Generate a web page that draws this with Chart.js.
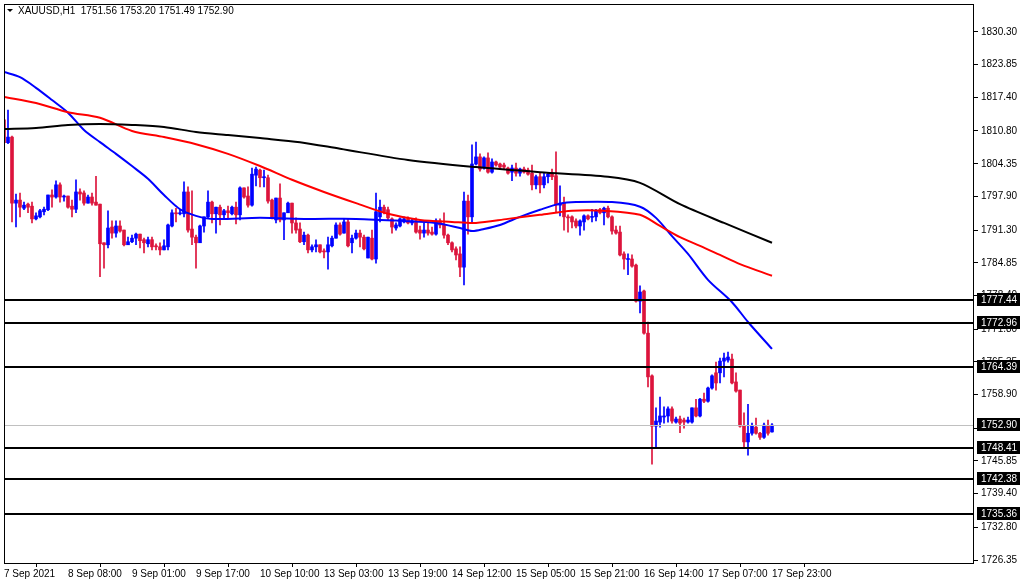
<!DOCTYPE html>
<html><head><meta charset="utf-8">
<script src="https://cdn.jsdelivr.net/npm/chart.js@4/dist/chart.umd.min.js"></script>
<style>html,body{margin:0;padding:0;background:#fff}canvas{display:block}</style>
</head><body>
<canvas id="c" width="1020" height="584"></canvas>
<script>
// OHLC candles, H1 bars, index 0..192
const opens = [1813.0,1808.5,1809.6,1796.6,1797.2,1795.6,1796.4,1796.0,1793.5,1793.9,1794.9,1795.3,1798.2,1797.8,1800.2,1797.8,1798.0,1796.0,1795.4,1798.8,1798.6,1796.6,1797.8,1796.8,1796.4,1788.8,1788.4,1791.9,1790.7,1792.1,1791.3,1788.4,1789.0,1789.7,1790.5,1789.4,1788.6,1789.4,1788.2,1788.0,1787.4,1788.0,1792.1,1794.7,1794.5,1794.5,1798.8,1791.5,1789.9,1788.8,1792.1,1793.9,1796.8,1794.5,1795.8,1794.3,1795.1,1794.5,1795.8,1794.3,1799.6,1798.0,1796.2,1802.1,1803.1,1801.6,1801.6,1797.2,1793.3,1797.6,1793.3,1794.7,1796.6,1792.7,1791.5,1789.0,1790.3,1787.4,1788.0,1788.4,1787.2,1787.0,1788.2,1789.7,1792.3,1790.7,1792.9,1788.8,1789.7,1790.7,1789.9,1785.8,1789.7,1785.6,1793.9,1795.8,1795.3,1793.5,1791.7,1792.1,1792.9,1793.5,1792.7,1793.1,1791.3,1790.7,1791.3,1790.9,1790.5,1793.1,1792.3,1790.3,1788.8,1787.6,1786.6,1784.0,1797.0,1793.9,1804.3,1805.7,1803.5,1805.5,1802.7,1804.7,1804.3,1804.1,1803.5,1802.7,1803.5,1802.5,1803.3,1803.1,1802.5,1800.2,1801.8,1800.2,1801.8,1802.5,1802.0,1796.2,1796.6,1793.9,1793.9,1793.1,1792.1,1792.9,1794.1,1793.8,1793.9,1795.3,1794.7,1795.6,1793.9,1791.3,1790.9,1786.6,1785.5,1785.6,1784.4,1777.3,1779.3,1771.0,1762.6,1752.7,1753.5,1754.5,1754.7,1756.1,1753.5,1754.1,1753.9,1753.5,1753.5,1756.3,1754.7,1758.0,1757.6,1760.2,1763.2,1763.2,1765.5,1765.7,1765.9,1761.4,1759.8,1752.7,1749.6,1751.3,1752.5,1751.3,1750.5,1752.7,1751.56];
const highs = [1813.4,1814.9,1809.8,1798.4,1798.6,1796.8,1796.6,1796.8,1794.7,1795.4,1795.8,1798.2,1799.2,1801.0,1800.6,1798.2,1798.0,1797.2,1801.2,1799.4,1799.0,1798.2,1798.6,1801.9,1796.4,1788.8,1795.1,1793.1,1793.1,1793.1,1791.3,1789.9,1790.3,1790.7,1790.5,1789.7,1789.9,1789.9,1788.6,1788.8,1789.4,1792.5,1795.3,1795.6,1795.4,1800.8,1799.8,1799.0,1790.3,1792.3,1793.9,1799.0,1797.0,1795.8,1796.2,1795.4,1796.0,1796.0,1796.8,1799.8,1799.6,1799.8,1803.5,1803.7,1803.3,1803.1,1802.1,1797.4,1797.6,1800.4,1794.7,1796.8,1796.6,1793.7,1792.7,1790.9,1790.5,1788.4,1789.4,1788.4,1787.6,1789.9,1790.1,1792.7,1792.7,1793.5,1793.5,1790.3,1791.3,1791.3,1790.3,1789.9,1791.3,1798.6,1797.2,1796.2,1795.8,1793.7,1792.7,1793.7,1793.9,1793.9,1793.5,1793.7,1792.1,1792.7,1792.7,1791.9,1793.5,1793.5,1794.7,1790.5,1789.0,1788.0,1788.0,1798.8,1798.2,1808.1,1808.6,1806.3,1805.7,1806.5,1805.3,1804.9,1804.5,1804.5,1803.7,1804.1,1804.5,1803.5,1803.7,1803.5,1804.1,1802.1,1802.5,1802.5,1802.5,1803.3,1806.7,1800.0,1797.8,1794.3,1794.1,1793.5,1793.3,1794.3,1794.3,1795.4,1795.4,1795.6,1795.8,1796.0,1794.1,1792.1,1792.1,1787.0,1786.6,1786.4,1784.6,1780.3,1779.5,1773.2,1762.8,1756.3,1758.4,1756.5,1756.5,1756.5,1754.5,1754.7,1754.3,1754.5,1756.3,1758.0,1758.2,1759.2,1760.4,1762.8,1765.3,1766.1,1767.1,1767.3,1766.9,1763.2,1759.8,1755.3,1757.0,1753.3,1754.3,1751.5,1753.3,1753.9,1753.20];
const lows = [1808.1,1808.3,1792.9,1791.9,1793.9,1795.3,1794.7,1792.7,1793.3,1793.7,1794.3,1795.1,1795.8,1797.6,1796.8,1797.0,1795.6,1793.9,1794.7,1797.2,1796.2,1796.6,1796.2,1796.2,1782.1,1783.8,1787.8,1789.7,1789.9,1790.9,1788.2,1788.4,1788.8,1788.4,1787.8,1786.8,1788.0,1787.4,1787.4,1786.4,1787.4,1787.4,1791.9,1792.9,1794.3,1793.9,1790.9,1788.4,1783.8,1788.8,1790.9,1793.7,1792.7,1790.7,1792.3,1793.7,1793.7,1794.3,1792.5,1793.3,1797.6,1795.8,1796.0,1800.0,1799.8,1799.8,1796.6,1793.5,1792.7,1792.9,1789.4,1794.7,1790.7,1790.7,1788.8,1788.4,1786.8,1787.0,1787.0,1786.8,1785.8,1783.6,1788.0,1789.7,1790.3,1790.7,1788.0,1786.8,1789.5,1788.0,1787.4,1785.8,1785.4,1784.8,1792.9,1794.5,1793.3,1790.7,1791.3,1791.9,1792.7,1792.5,1792.3,1790.7,1789.5,1789.9,1790.3,1790.3,1790.3,1791.7,1789.7,1788.4,1787.0,1785.4,1782.1,1780.5,1790.5,1792.7,1804.1,1802.9,1803.3,1802.5,1802.5,1803.9,1803.5,1803.3,1802.3,1801.0,1801.9,1801.9,1802.5,1802.1,1799.2,1799.4,1798.6,1799.6,1800.6,1801.2,1794.9,1794.1,1791.3,1790.9,1791.7,1791.7,1790.3,1791.3,1793.3,1792.9,1793.1,1794.5,1792.3,1793.7,1790.5,1790.5,1786.2,1783.6,1782.5,1784.0,1777.1,1775.0,1770.8,1760.4,1745.2,1748.6,1752.5,1753.3,1753.5,1753.3,1753.3,1751.4,1752.3,1753.3,1753.3,1754.5,1754.5,1757.3,1757.4,1760.0,1759.8,1761.2,1762.4,1765.3,1761.0,1759.4,1752.5,1748.4,1747.0,1750.9,1751.1,1750.1,1750.3,1750.9,1751.49];
const closes = [1808.5,1809.6,1796.6,1797.2,1795.8,1796.2,1795.8,1793.5,1794.1,1795.1,1795.4,1798.2,1797.8,1800.2,1797.8,1798.0,1795.8,1795.4,1798.8,1798.4,1796.6,1797.8,1796.6,1796.2,1788.6,1788.4,1791.7,1790.7,1792.1,1791.1,1788.4,1789.0,1789.7,1790.5,1789.2,1788.8,1789.4,1788.0,1788.0,1787.4,1788.2,1792.3,1794.7,1794.5,1794.7,1798.8,1791.3,1789.9,1788.8,1792.1,1793.9,1796.8,1794.5,1795.8,1794.3,1795.1,1794.7,1795.8,1794.3,1799.6,1797.8,1796.2,1802.3,1803.3,1801.6,1801.8,1797.0,1793.7,1797.6,1793.3,1794.7,1796.6,1792.7,1791.3,1789.0,1790.3,1787.4,1788.0,1788.4,1787.0,1787.0,1788.4,1789.7,1792.3,1790.5,1792.9,1788.2,1789.7,1790.7,1789.9,1787.6,1789.9,1785.6,1794.9,1795.8,1794.9,1793.7,1791.9,1792.3,1793.5,1793.5,1792.7,1793.1,1790.9,1790.7,1791.3,1790.7,1790.5,1793.1,1792.3,1790.3,1788.8,1787.4,1786.4,1784.0,1797.0,1793.9,1804.3,1805.7,1803.3,1805.5,1802.7,1804.7,1804.1,1803.7,1803.7,1802.5,1803.5,1802.5,1803.3,1802.7,1802.3,1800.2,1801.8,1800.2,1801.8,1802.3,1801.8,1796.2,1796.6,1793.9,1793.7,1792.9,1792.1,1793.1,1794.1,1793.5,1793.9,1795.1,1794.7,1795.6,1793.9,1791.1,1790.7,1786.4,1785.6,1785.7,1784.2,1777.3,1779.1,1771.0,1762.4,1752.7,1753.7,1754.7,1754.7,1756.1,1753.7,1754.1,1753.3,1753.5,1753.9,1756.3,1754.7,1758.0,1757.6,1760.2,1762.6,1761.2,1765.5,1766.1,1766.3,1761.2,1759.6,1752.7,1749.6,1751.3,1752.7,1751.3,1750.5,1752.9,1751.3,1752.90];

const maFastIdx = [0,4,8,12,16,20,24,28,32,36,40,44,48,52,64,76,88,100,108,114,117,120,124,129,134,139,143,152,159,163,167,171,176,182,186,192];
const maFastVal = [1822.4,1821.4,1819.3,1816.9,1814.4,1811.0,1808.6,1806.3,1803.9,1801.4,1798.2,1795.4,1794.1,1793.5,1793.7,1793.5,1793.5,1793.1,1792.7,1791.7,1791.1,1791.5,1792.3,1793.9,1795.3,1796.5,1796.8,1796.8,1795.9,1793.7,1790.1,1786.6,1781.5,1777.1,1773.2,1767.9];
const maMidIdx = [0,8,16,24,32,40,48,56,64,72,80,88,96,104,112,118,126,134,142,150,159,164,169,174,179,184,192];
const maMidVal = [1817.5,1816.3,1814.5,1813.4,1810.8,1809.6,1808.2,1806.3,1803.9,1801.2,1798.8,1796.6,1794.5,1793.3,1792.9,1792.7,1793.5,1794.3,1795.1,1795.1,1794.3,1792.1,1789.9,1788.2,1786.4,1784.6,1782.3];
const maSlowIdx = [0,8,16,24,32,40,48,56,64,74,84,101,118,134,151,159,169,180,192];
const maSlowVal = [1811.2,1811.4,1812.0,1812.2,1812.0,1811.6,1810.6,1810.0,1809.4,1808.6,1807.3,1805.1,1803.7,1802.7,1801.8,1800.6,1796.4,1792.7,1788.8];

const levels = [1777.44,1772.96,1764.39,1748.41,1742.38,1735.36];
const lastPrice = 1752.90;
const yTicks = [1830.30,1823.85,1817.40,1810.80,1804.35,1797.90,1791.30,1784.85,1778.40,1771.80,1765.35,1758.90,1752.30,1745.85,1739.40,1732.80,1726.35];
const xTickIdx = [0,16,32,48,64,80,96,112,128,144,160,176,192];
const xTickLabels = ['7 Sep 2021','8 Sep 08:00','9 Sep 01:00','9 Sep 17:00','10 Sep 10:00','13 Sep 03:00','13 Sep 19:00','14 Sep 12:00','15 Sep 05:00','15 Sep 21:00','16 Sep 14:00','17 Sep 07:00','17 Sep 23:00'];
const title = 'XAUUSD,H1  1751.56 1753.20 1751.49 1752.90';

const RED='#DC143C', BLUE='#0000FF';
const cols = opens.map((o,i)=> closes[i]>=o ? BLUE : RED);
const wick = opens.map((o,i)=>({x:i, y:[lows[i],highs[i]]}));
const body = opens.map((o,i)=>({x:i, y:[Math.min(o,closes[i]),Math.max(o,closes[i])]}));
const pts = (ix,v)=>ix.map((x,k)=>({x:x,y:v[k]}));
const FONT = {family:'Liberation Sans', size:10};

const overlay = {
  id:'overlay',
  afterDraw(ch){
    const c=ch.ctx, a=ch.chartArea, y=ch.scales.y;
    c.save();
    c.strokeStyle='#c0c0c0'; c.lineWidth=1;
    let py=Math.round(y.getPixelForValue(lastPrice))+0.5;
    c.beginPath(); c.moveTo(a.left,py); c.lineTo(a.right,py); c.stroke();
    c.strokeStyle='#000'; c.lineWidth=2;
    levels.forEach(v=>{const p=Math.round(y.getPixelForValue(v));c.beginPath();c.moveTo(a.left,p);c.lineTo(a.right,p);c.stroke();});
    c.font='10px "Liberation Sans"'; c.textBaseline='middle'; c.textAlign='left';
    [...levels,lastPrice].forEach(v=>{const p=Math.round(y.getPixelForValue(v));c.fillStyle='#000';c.fillRect(a.right+3,p-7,43,13);c.fillStyle='#fff';c.fillText(v.toFixed(2),a.right+7,p);});
    c.strokeStyle='#000'; c.lineWidth=1;
    c.strokeRect(a.left+0.5,a.top+0.5,a.right-a.left-1,a.bottom-a.top);
    c.fillStyle='#000';
    c.beginPath(); c.moveTo(7,9); c.lineTo(13,9); c.lineTo(10,12); c.closePath(); c.fill();
    c.font='10px "Liberation Sans"'; c.fillText(title,18,11);
    c.restore();
  }
};

new Chart(document.getElementById('c'),{
  type:'bar',
  data:{datasets:[
    {type:'line',data:pts(maSlowIdx,maSlowVal),borderColor:'#000',borderWidth:2,pointRadius:0,tension:0.3,order:1},
    {type:'line',data:pts(maMidIdx,maMidVal),borderColor:'#FF0000',borderWidth:2,pointRadius:0,tension:0.3,order:1},
    {type:'line',data:pts(maFastIdx,maFastVal),borderColor:BLUE,borderWidth:2,pointRadius:0,tension:0.3,order:1},
    {data:wick,backgroundColor:cols,barThickness:1,grouped:false,order:3},
    {data:body,backgroundColor:cols,barThickness:3,grouped:false,minBarLength:1,order:2}
  ]},
  options:{
    responsive:false, animation:false, devicePixelRatio:1,
    layout:{padding:{left:4,top:4,right:0,bottom:0}},
    plugins:{legend:{display:false},tooltip:{enabled:false}},
    scales:{
      x:{type:'linear',min:0,max:242.5,offset:false,
        afterBuildTicks(s){s.ticks=xTickIdx.map(v=>({value:v}));},
        afterFit(s){s.height=21;s.paddingLeft=0;s.paddingRight=0;},
        grid:{drawOnChartArea:false,tickLength:4,color:'#000'},
        border:{display:false},
        ticks:{align:'start',padding:1,color:'#000',font:FONT,maxRotation:0,autoSkip:false,
          callback:(v)=>{const k=xTickIdx.indexOf(v);return k>=0?xTickLabels[k]:'';}}},
      y:{position:'right',min:1725.76,max:1835.8,
        afterBuildTicks(s){s.ticks=yTicks.map(v=>({value:v}));},
        afterFit(s){s.width=46;s.paddingTop=0;s.paddingBottom=0;},
        grid:{drawOnChartArea:false,tickLength:4,color:'#000'},
        border:{display:false},
        ticks:{padding:3,color:'#000',font:FONT,autoSkip:false,callback:v=>v.toFixed(2)}}
    }
  },
  plugins:[overlay]
});
</script>
</body></html>
